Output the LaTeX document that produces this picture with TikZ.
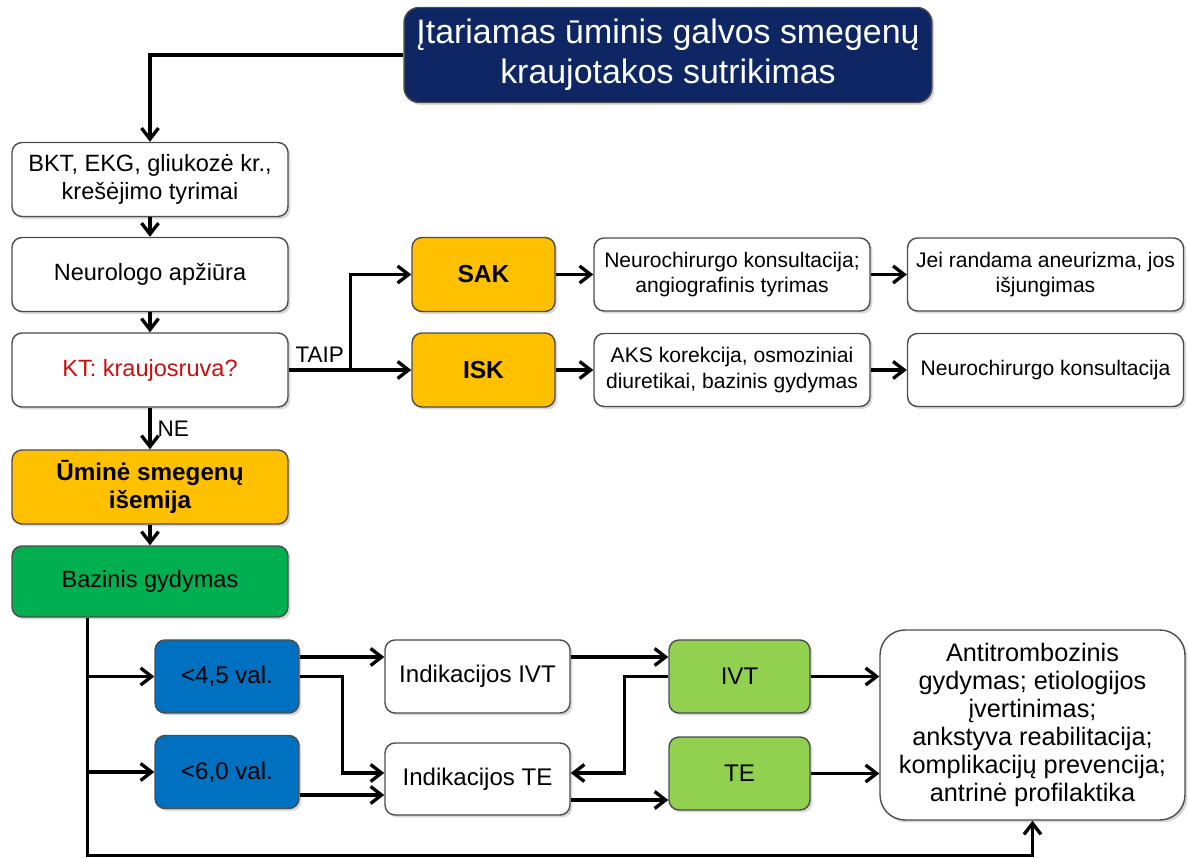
\documentclass[tikz,border=0pt]{standalone}
\usepackage{fontspec}
\setmainfont{Liberation Sans}
\usetikzlibrary{arrows.meta}
\usetikzlibrary{shadows}
\definecolor{navy}{RGB}{14,38,100}
\definecolor{amber}{RGB}{255,192,0}
\definecolor{leaf}{RGB}{0,176,80}
\definecolor{lime}{RGB}{146,208,80}
\definecolor{sea}{RGB}{0,112,192}
\definecolor{alert}{RGB}{200,16,16}
\tikzset{box/.style={draw=black!70, line width=0.8pt, rounded corners=0.2cm, fill=white,
    align=center, inner sep=2pt, font=\fontsize{13.4}{16}\selectfont,
    drop shadow={shadow xshift=0.05cm, shadow yshift=-0.05cm, opacity=0.3}}}
\tikzset{wide/.style={box, minimum width=5.52cm, minimum height=1.48cm}}
\tikzset{small/.style={box, minimum width=5.52cm, minimum height=1.46cm, font=\fontsize{12}{14.5}\selectfont}}
\tikzset{mid/.style={box, font=\fontsize{13.7}{16}\selectfont}}
\tikzset{arr/.style={-{Straight Barb[length=2.2mm,width=3.4mm]}, line width=1.9pt}}

\begin{document}
\begin{tikzpicture}[x=0.02cm,y=-0.02cm]
  \useasboundingbox (0,0) rectangle (1188,858);
  \node[box, fill=navy, text=white, minimum width=10.56cm, minimum height=1.9cm,
    rounded corners=0.3cm, font=\fontsize{19.3}{23}\selectfont] (susp) at (668,55)
    {Įtariamas ūminis galvos smegenų\\kraujotakos sutrikimas};
  % left column
  \node[wide] (bkt) at (150,179.5) {BKT, EKG, gliukozė kr.,\\krešėjimo tyrimai};
  \node[wide] (neuro) at (150,274.5) {Neurologo apžiūra};
  \node[wide, text=alert] (kt) at (150,370) {KT: kraujosruva?};
  \node[wide, fill=amber, font=\fontsize{13.8}{16}\selectfont\bfseries] (umine) at (150,487)
    {Ūminė smegenų\\išemija};
  \node[wide, fill=leaf, minimum height=1.42cm] (baz) at (150,581.5) {Bazinis gydymas};
  % hemorrhage branch
  \node[mid, fill=amber, minimum width=2.86cm, minimum height=1.48cm,
    font=\fontsize{14}{16}\selectfont\bfseries] (sak) at (483.5,274.5) {SAK};
  \node[mid, fill=amber, minimum width=2.86cm, minimum height=1.48cm,
    font=\fontsize{14}{16}\selectfont\bfseries] (isk) at (483.5,370) {ISK};
  \node[small] (nck1) at (732,274.5) {Neurochirurgo konsultacija;\\angiografinis tyrimas};
  \node[small] (jei) at (1045.5,274.5) {Jei randama aneurizma, jos\\išjungimas};
  \node[small] (aks) at (732,370) {AKS korekcija, osmoziniai\\diuretikai, bazinis gydymas};
  \node[small] (nck2) at (1045.5,370) {Neurochirurgo konsultacija};
  % ischemia branch
  \node[mid, fill=sea, minimum width=2.88cm, minimum height=1.46cm] (lt45) at (227,676.5) {<4,5 val.};
  \node[mid, fill=sea, minimum width=2.88cm, minimum height=1.46cm] (lt60) at (227,772) {<6,0 val.};
  \node[mid, minimum width=3.7cm, minimum height=1.46cm] (indivt) at (477.5,676.5) {Indikacijos IVT};
  \node[mid, minimum width=3.7cm, minimum height=1.44cm] (indte) at (477.5,779) {Indikacijos TE};
  \node[mid, fill=lime, minimum width=2.82cm, minimum height=1.46cm] (ivt) at (739.5,676.5) {IVT};
  \node[mid, fill=lime, minimum width=2.82cm, minimum height=1.46cm] (te) at (739.5,773.5) {TE};
  \node[box, minimum width=6.1cm, minimum height=3.8cm, rounded corners=0.5cm,
    font=\fontsize{14.4}{15.9}\selectfont] (big) at (1032.5,725)
    {Antitrombozinis\\gydymas; etiologijos\\įvertinimas;\\ankstyva reabilitacija;\\komplikacijų prevencija;\\antrinė profilaktika};

  % connectors
  \draw[arr] (susp.west) -| (bkt.north);
  \foreach \u/\v in {
    bkt/neuro,
    neuro/kt,
    umine/baz,
    sak/nck1,
    nck1/jei,
    isk/aks,
    aks/nck2%
  }{
    \draw[arr] (\u) -- (\v);
  }
  \draw[arr] (kt.south) -- node[right, font=\fontsize{12.8}{15}\selectfont] {NE} (umine.north);
  \draw[arr] (kt.east) -- node[above, font=\fontsize{12.8}{15}\selectfont] {TAIP} ++(62,0)
    coordinate (split) |- (sak.west);
  \draw[arr] (split) -- (isk.west);
  % time windows
  \coordinate (trunk) at ([xshift=1.52cm]baz.south west);
  \draw[arr] (trunk) -- ++(0,238) -| (big.south);
  \draw[arr] (trunk |- lt45.west) -- (lt45.west);
  \draw[arr] (trunk |- lt60.west) -- (lt60.west);
  \draw[arr] ([yshift=0.39cm]lt45.east) -- ([yshift=0.39cm]indivt.west);
  \draw[arr] (lt45.east) -- ++(43,0) |- ([yshift=0.12cm]indte.west);
  \draw[arr] ([yshift=-0.46cm]lt60.east) coordinate (p) -- (p -| indte.west);
  \draw[arr] ([yshift=0.39cm]indivt.east) -- ([yshift=0.39cm]ivt.west);
  \draw[arr] (ivt.west) -- ++(-44,0) |- ([yshift=0.12cm]indte.east);
  \draw[arr] ([yshift=-0.42cm]indte.east) coordinate (q) -- (q -| te.west);
  \draw[arr] (ivt.east) -- (ivt.east -| big.west);
  \draw[arr] (te.east) -- (te.east -| big.west);
\end{tikzpicture}
\end{document}
